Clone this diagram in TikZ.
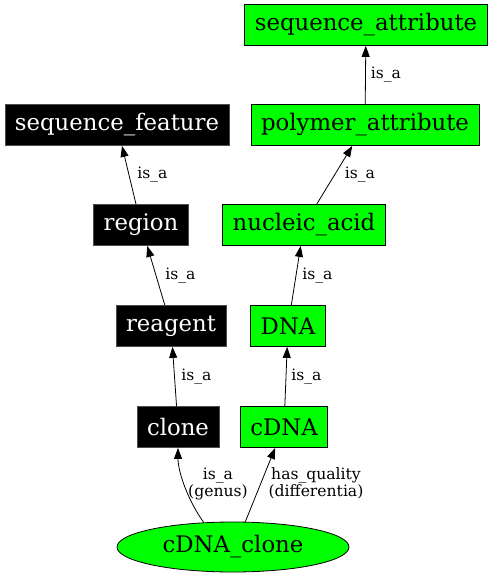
\documentclass[tikz,border=0pt]{standalone}
\usepackage{fontspec}
\setmainfont{DejaVu Serif}
\usetikzlibrary{shapes.geometric,arrows.meta}
\definecolor{termgreen}{RGB}{0,255,0}
\tikzset{
  term/.style={rectangle, draw=black, line width=0.8pt, minimum height=41pt,
    inner xsep=10pt, inner ysep=0pt, font=\fontsize{22.8}{26}\selectfont},
  blackterm/.style={term, fill=black, text=white, draw=black!70},
  greenterm/.style={term, fill=termgreen, text=black},
  rootterm/.style={ellipse, draw=black, line width=0.8pt, fill=termgreen,
    minimum width=232pt, minimum height=50pt, inner sep=0pt,
    font=\fontsize{22.8}{26}\selectfont},
  rel/.style={draw=black, line width=0.8pt, -{Triangle[length=11pt,width=8pt]}},
  rellabel/.style={font=\fontsize{15.6}{17.5}\selectfont, inner sep=0pt,
    anchor=west, align=center}
}

\begin{document}
\begin{tikzpicture}[x=1pt,y=1pt]
\useasboundingbox (0,0) rectangle (493,-576);
% terms
\node[greenterm] (seqattr) at (366,-25) {sequence\_attribute};
\node[blackterm] (seqfeat) at (117,-125) {sequence\_feature};
\node[greenterm] (polyattr) at (365,-125) {polymer\_attribute};
\node[blackterm] (region) at (141,-225) {region};
\node[greenterm] (nucacid) at (304,-225) {nucleic\_acid};
\node[blackterm] (reagent) at (171,-326) {reagent};
\node[greenterm] (dna) at (288,-326) {DNA};
\node[blackterm] (clone) at (178,-427) {clone};
\node[greenterm] (cdna) at (284,-427) {cDNA};
\node[rootterm] (cdnaclone) at (233,-547) {cDNA\_clone};
% relations
\draw[rel] (polyattr) -- node[rellabel, xshift=5pt] {is\_a} (seqattr);
\draw[rel] (region) -- node[rellabel, xshift=8pt] {is\_a} (seqfeat);
\draw[rel] (nucacid) -- node[rellabel, xshift=10pt] {is\_a} (polyattr);
\draw[rel] (reagent) -- node[rellabel, xshift=9pt] {is\_a} (region);
\draw[rel] (dna) -- node[rellabel, xshift=6pt] {is\_a} (nucacid);
\draw[rel] (clone) -- node[rellabel, xshift=6.5pt] {is\_a} (reagent);
\draw[rel] (cdna) -- node[rellabel, xshift=5pt] {is\_a} (dna);
\draw[rel] (cdnaclone.140) .. controls +(126:25) and +(-90:25) .. (clone.south)
  node[rellabel, pos=0.5, xshift=2.5pt, yshift=3pt] {is\_a\\(genus)};
\draw[rel] (cdnaclone.64) -- node[rellabel, xshift=8pt, yshift=1.5pt]
  {has\_quality\\(differentia)} (cdna.247);
\end{tikzpicture}
\end{document}
